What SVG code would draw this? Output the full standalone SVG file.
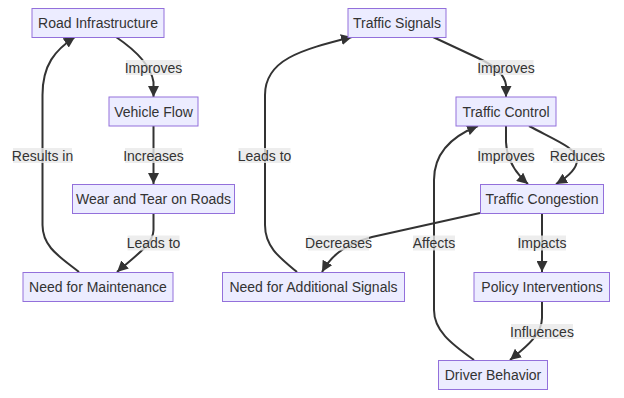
<svg xmlns="http://www.w3.org/2000/svg" width="624" height="398" viewBox="0 0 624 398">
<style>
.node rect{fill:#ECECFF;stroke:#9370DB;stroke-width:1}
text{font-family:"Trebuchet MS","Liberation Sans",Arial,sans-serif;font-size:14px;fill:#333;text-anchor:middle;dominant-baseline:central}
.edge{fill:none;stroke:#333;stroke-width:2;marker-end:url(#arrow)}
.lbl rect{fill:#e8e8e8;opacity:0.8}
</style>
<defs>
<marker id="arrow" markerUnits="userSpaceOnUse" markerWidth="11" markerHeight="11" viewBox="0 0 10 10" refX="10" refY="5" orient="auto">
<path d="M0,0 L10,5 L0,10 z" fill="#333"/>
</marker>
</defs>
<rect width="624" height="398" fill="#fff"/>
<g id="connectors">
<path class="edge" d="M116,37 Q150,60 153.5,82 L153.5,97"/>
<path class="edge" d="M153.5,126 L153.5,184"/>
<path class="edge" d="M153.5,214 L153.5,230 C153.5,245 130,260 117,272"/>
<path class="edge" d="M79,272 C60,257 42.5,247 42.5,225 L42.5,95 C42.5,65 55,50 75,37"/>
<path class="edge" d="M297,272 C280,258 265,247 265,225 L265,95 C265,60 300,50 352,37"/>
<path class="edge" d="M433,37 L478,58 Q504,70 506,85 L506,97"/>
<path class="edge" d="M506,126 L506,142 Q507,166 528,184"/>
<path class="edge" d="M529,126 C555,140 577,148 577,160 C577,170 566,178 556,184"/>
<path class="edge" d="M480,213 L372,237 C342,245 330,258 322,272"/>
<path class="edge" d="M474,360 C450,343 434,330 434,310 L434,180 C434,150 455,135 478,126"/>
<path class="edge" d="M542,213.5 L542,272"/>
<path class="edge" d="M542,302 L542,318 C542,336 522,350 510,360"/>
</g>
<g id="edge-labels">
<g class="lbl"><rect x="126" y="60" width="55" height="15"/><text x="153.5" y="67.5">Improves</text></g>
<g class="lbl"><rect x="125" y="148" width="57" height="15"/><text x="153.5" y="155.5">Increases</text></g>
<g class="lbl"><rect x="13" y="148" width="59" height="15"/><text x="42.5" y="155.5">Results in</text></g>
<g class="lbl"><rect x="238.5" y="148" width="52" height="15"/><text x="264.5" y="155.5">Leads to</text></g>
<g class="lbl"><rect x="127.5" y="235.5" width="52" height="15"/><text x="153.5" y="243">Leads to</text></g>
<g class="lbl"><rect x="478.5" y="60" width="55" height="15"/><text x="506" y="67.5">Improves</text></g>
<g class="lbl"><rect x="478.5" y="148" width="55" height="15"/><text x="506" y="155.5">Improves</text></g>
<g class="lbl"><rect x="553" y="148" width="49" height="15"/><text x="577.5" y="155.5">Reduces</text></g>
<g class="lbl"><rect x="308" y="235.5" width="61" height="15"/><text x="338.5" y="243">Decreases</text></g>
<g class="lbl"><rect x="413" y="235.5" width="42" height="15"/><text x="434" y="243">Affects</text></g>
<g class="lbl"><rect x="518" y="235.5" width="48" height="15"/><text x="542" y="243">Impacts</text></g>
<g class="lbl"><rect x="511" y="324" width="62" height="15"/><text x="542" y="331.5">Influences</text></g>
</g>
<g id="road-infrastructure" class="node"><rect x="32" y="8.5" width="132" height="29"/><text x="98" y="23">Road Infrastructure</text></g>
<g id="vehicle-flow" class="node"><rect x="109" y="97" width="89" height="29"/><text x="153.5" y="111.5">Vehicle Flow</text></g>
<g id="wear-tear" class="node"><rect x="72.5" y="184.5" width="162" height="29"/><text x="153.5" y="199">Wear and Tear on Roads</text></g>
<g id="need-maintenance" class="node"><rect x="23" y="272.5" width="150" height="29"/><text x="98" y="287">Need for Maintenance</text></g>
<g id="need-signals" class="node"><rect x="222.5" y="272.5" width="182" height="29"/><text x="313.5" y="287">Need for Additional Signals</text></g>
<g id="traffic-signals" class="node"><rect x="348" y="8.5" width="98" height="29"/><text x="397" y="23">Traffic Signals</text></g>
<g id="traffic-control" class="node"><rect x="456" y="97" width="100" height="29"/><text x="506" y="111.5">Traffic Control</text></g>
<g id="traffic-congestion" class="node"><rect x="480.5" y="184.5" width="123" height="29"/><text x="542" y="199">Traffic Congestion</text></g>
<g id="policy" class="node"><rect x="474" y="272.5" width="135.5" height="29"/><text x="542" y="287">Policy Interventions</text></g>
<g id="driver-behavior" class="node"><rect x="438.5" y="360.5" width="109" height="29"/><text x="493" y="375">Driver Behavior</text></g>
</svg>
